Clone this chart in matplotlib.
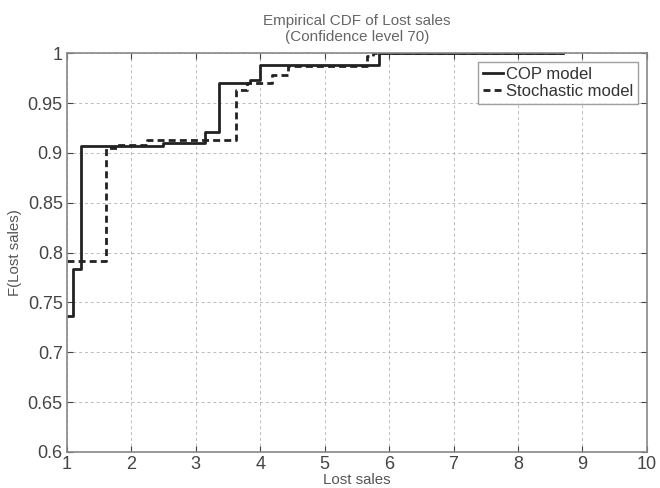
import matplotlib
matplotlib.use("Agg")
import matplotlib.pyplot as plt
from matplotlib.ticker import FuncFormatter

plt.rcParams['font.family'] = ['Liberation Sans', 'DejaVu Sans']

cop_x = [1.0, 1.10, 1.22, 2.49, 3.14, 3.36, 3.84, 3.99, 5.85, 8.7]
cop_y = [0.736, 0.784, 0.907, 0.910, 0.921, 0.970, 0.973, 0.988, 1.0, 1.0]

sto_x = [1.0, 1.60, 1.77, 2.24, 3.63, 3.79, 4.18, 4.43, 5.65, 5.75, 8.7]
sto_y = [0.792, 0.905, 0.908, 0.913, 0.963, 0.970, 0.978, 0.987, 0.997, 1.0, 1.0]

x_ticks = [1, 2, 3, 4, 5, 6, 7, 8, 9, 10]
y_ticks = [0.6, 0.65, 0.7, 0.75, 0.8, 0.85, 0.9, 0.95, 1.0]

fig = plt.figure(figsize=(6.6, 4.88), dpi=100)
ax = fig.add_axes([0.1015, 0.0738, 0.8785, 0.8172])

ax.step(cop_x, cop_y, where='post', color='#222222', lw=2.0, label='COP model')
ax.step(sto_x, sto_y, where='post', color='#222222', lw=2.0, ls=(0, (2.5, 1.5)), label='Stochastic model')

ax.set_xlim(1, 10)
ax.set_ylim(0.6, 1.0)
ax.set_xticks(x_ticks)
ax.set_yticks(y_ticks)
ax.yaxis.set_major_formatter(FuncFormatter(lambda v, p: ('%g' % round(v, 2))))
ax.tick_params(direction='in', top=True, right=True, labelsize=13, colors='#444444', length=4, pad=3)
ax.grid(True, ls=(0, (3, 3)), color='#bbbbbb', lw=0.7)
for s in ax.spines.values():
    s.set_color('#888888')
    s.set_linewidth(1.2)

ax.set_xlabel('Lost sales', fontsize=10.8, color='#555555', labelpad=0)
ax.set_ylabel('F(Lost sales)', fontsize=10.8, color='#555555', labelpad=4)
ax.set_title('Empirical CDF of Lost sales\n(Confidence level 70)', fontsize=11, color='#666666', pad=9, linespacing=1.15)

leg = ax.legend(loc='upper right', fontsize=12, frameon=True, fancybox=False,
                handlelength=1.2, handletextpad=0.2, borderpad=0.3, labelspacing=0.15,
                borderaxespad=0.5)
leg.get_frame().set_edgecolor('#888888')
leg.get_frame().set_linewidth(1.0)
for t in leg.get_texts():
    t.set_color('#333333')

fig.savefig('out.png', dpi=100)
